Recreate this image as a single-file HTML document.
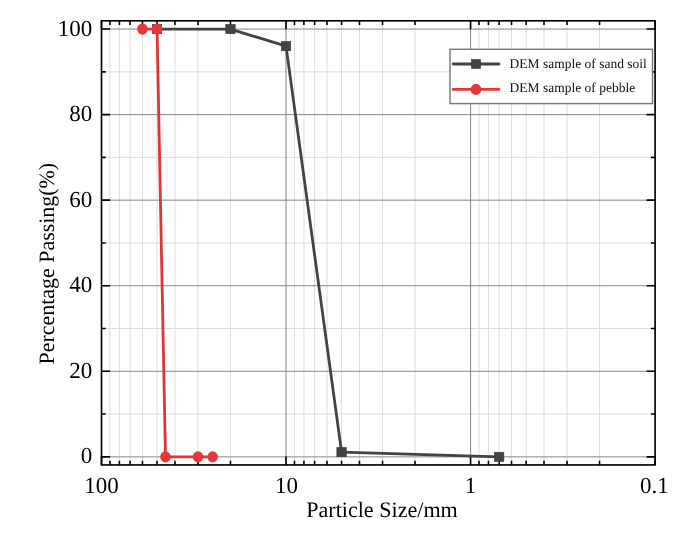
<!DOCTYPE html>
<html><head><meta charset="utf-8"><style>
html,body{margin:0;padding:0;background:#fff;}
body{width:685px;height:534px;overflow:hidden;font-family:"Liberation Serif",serif;}
svg{display:block;will-change:transform;} text{text-rendering:geometricPrecision;}
</style></head><body>
<svg width="685" height="534" viewBox="0 0 685 534">
<rect width="685" height="534" fill="#fff"/>
<path d="M230.48 20.8V464.95M197.99 20.8V464.95M174.93 20.8V464.95M157.05 20.8V464.95M142.44 20.8V464.95M130.08 20.8V464.95M119.38 20.8V464.95M109.94 20.8V464.95M415.02 20.8V464.95M382.52 20.8V464.95M359.47 20.8V464.95M341.58 20.8V464.95M326.97 20.8V464.95M314.62 20.8V464.95M303.92 20.8V464.95M294.48 20.8V464.95M599.55 20.8V464.95M567.06 20.8V464.95M544.00 20.8V464.95M526.12 20.8V464.95M511.51 20.8V464.95M499.15 20.8V464.95M488.45 20.8V464.95M479.01 20.8V464.95M101.5 414.07H655.1M101.5 328.51H655.1M101.5 242.95H655.1M101.5 157.39H655.1M101.5 71.83H655.1" stroke="#dddddd" stroke-width="1" fill="none"/>
<path d="M286.03 20.8V464.95M470.57 20.8V464.95M101.5 456.85H655.1M101.5 371.29H655.1M101.5 285.73H655.1M101.5 200.17H655.1M101.5 114.61H655.1M101.5 29.05H655.1" stroke="#858585" stroke-width="1" fill="none"/>
<path d="M101.50 464.95v-8.5M101.50 20.8v8.5M286.03 464.95v-8.5M286.03 20.8v8.5M470.57 464.95v-8.5M470.57 20.8v8.5M655.10 464.95v-8.5M655.10 20.8v8.5M230.48 464.95v-4.2M230.48 20.8v4.2M197.99 464.95v-4.2M197.99 20.8v4.2M174.93 464.95v-4.2M174.93 20.8v4.2M157.05 464.95v-4.2M157.05 20.8v4.2M142.44 464.95v-4.2M142.44 20.8v4.2M130.08 464.95v-4.2M130.08 20.8v4.2M119.38 464.95v-4.2M119.38 20.8v4.2M109.94 464.95v-4.2M109.94 20.8v4.2M415.02 464.95v-4.2M415.02 20.8v4.2M382.52 464.95v-4.2M382.52 20.8v4.2M359.47 464.95v-4.2M359.47 20.8v4.2M341.58 464.95v-4.2M341.58 20.8v4.2M326.97 464.95v-4.2M326.97 20.8v4.2M314.62 464.95v-4.2M314.62 20.8v4.2M303.92 464.95v-4.2M303.92 20.8v4.2M294.48 464.95v-4.2M294.48 20.8v4.2M599.55 464.95v-4.2M599.55 20.8v4.2M567.06 464.95v-4.2M567.06 20.8v4.2M544.00 464.95v-4.2M544.00 20.8v4.2M526.12 464.95v-4.2M526.12 20.8v4.2M511.51 464.95v-4.2M511.51 20.8v4.2M499.15 464.95v-4.2M499.15 20.8v4.2M488.45 464.95v-4.2M488.45 20.8v4.2M479.01 464.95v-4.2M479.01 20.8v4.2M101.5 456.85h8.5M655.1 456.85h-8.5M101.5 371.29h8.5M655.1 371.29h-8.5M101.5 285.73h8.5M655.1 285.73h-8.5M101.5 200.17h8.5M655.1 200.17h-8.5M101.5 114.61h8.5M655.1 114.61h-8.5M101.5 29.05h8.5M655.1 29.05h-8.5M101.5 414.07h4.2M655.1 414.07h-4.2M101.5 328.51h4.2M655.1 328.51h-4.2M101.5 242.95h4.2M655.1 242.95h-4.2M101.5 157.39h4.2M655.1 157.39h-4.2M101.5 71.83h4.2M655.1 71.83h-4.2" stroke="#000" stroke-width="1.6" fill="none"/>
<rect x="101.5" y="20.8" width="553.60" height="444.15" stroke="#000" stroke-width="1.65" fill="none"/>
<polyline points="157.05,29.05 230.48,29.05 286.03,46.16 341.58,452.14 499.15,456.85" stroke="#434343" stroke-width="2.8" fill="none" stroke-linejoin="round"/>
<rect x="152.35" y="24.45" width="9.4" height="9.2" fill="#434343" stroke="#363636" stroke-width="0.6"/>
<rect x="225.78" y="24.45" width="9.4" height="9.2" fill="#434343" stroke="#363636" stroke-width="0.6"/>
<rect x="281.33" y="41.56" width="9.4" height="9.2" fill="#434343" stroke="#363636" stroke-width="0.6"/>
<rect x="336.88" y="447.54" width="9.4" height="9.2" fill="#434343" stroke="#363636" stroke-width="0.6"/>
<rect x="494.45" y="452.25" width="9.4" height="9.2" fill="#434343" stroke="#363636" stroke-width="0.6"/>
<polyline points="142.44,29.05 157.05,29.05 165.49,456.85 197.99,456.85 212.60,456.85" stroke="#de353a" stroke-width="2.8" fill="none" stroke-linejoin="round"/>
<ellipse cx="142.44" cy="29.05" rx="5.3" ry="5.6" fill="#e5383b"/>
<ellipse cx="157.05" cy="29.05" rx="5.3" ry="5.6" fill="#e5383b"/>
<ellipse cx="165.49" cy="456.85" rx="5.3" ry="5.6" fill="#e5383b"/>
<ellipse cx="197.99" cy="456.85" rx="5.3" ry="5.6" fill="#e5383b"/>
<ellipse cx="212.60" cy="456.85" rx="5.3" ry="5.6" fill="#e5383b"/>
<rect x="450.0" y="49.3" width="202.5" height="54.3" fill="#fff" stroke="#767676" stroke-width="1.4"/>
<path d="M453.2 64H499" stroke="#434343" stroke-width="2.8" stroke-linecap="round"/>
<rect x="471.5" y="59.5" width="9" height="9" fill="#434343" stroke="#333" stroke-width="0.6"/>
<path d="M453.2 89.4H499" stroke="#e5383b" stroke-width="2.8" stroke-linecap="round"/>
<ellipse cx="476" cy="89.4" rx="5.3" ry="5.6" fill="#e5383b"/>
<text transform="translate(509.60,67.90) scale(1,1.0)" font-family="Liberation Serif, serif" font-size="13.5" fill="#111">DEM sample of sand soil</text>
<text transform="translate(509.60,91.80) scale(1,1.0)" font-family="Liberation Serif, serif" font-size="13.5" fill="#111">DEM sample of pebble</text>
<text transform="translate(92.20,463.35) scale(1,1.0)" font-family="Liberation Serif, serif" font-size="23" text-anchor="end" fill="#000">0</text>
<text transform="translate(92.20,377.79) scale(1,1.0)" font-family="Liberation Serif, serif" font-size="23" text-anchor="end" fill="#000">20</text>
<text transform="translate(92.20,292.23) scale(1,1.0)" font-family="Liberation Serif, serif" font-size="23" text-anchor="end" fill="#000">40</text>
<text transform="translate(92.20,206.67) scale(1,1.0)" font-family="Liberation Serif, serif" font-size="23" text-anchor="end" fill="#000">60</text>
<text transform="translate(92.20,121.11) scale(1,1.0)" font-family="Liberation Serif, serif" font-size="23" text-anchor="end" fill="#000">80</text>
<text transform="translate(92.20,35.55) scale(1,1.0)" font-family="Liberation Serif, serif" font-size="23" text-anchor="end" fill="#000">100</text>
<text transform="translate(101.40,492.60) scale(1,1.0)" font-family="Liberation Serif, serif" font-size="23" text-anchor="middle" fill="#000">100</text>
<text transform="translate(286.40,492.60) scale(1,1.0)" font-family="Liberation Serif, serif" font-size="23" text-anchor="middle" fill="#000">10</text>
<text transform="translate(470.40,492.60) scale(1,1.0)" font-family="Liberation Serif, serif" font-size="23" text-anchor="middle" fill="#000">1</text>
<text transform="translate(654.30,492.60) scale(1,1.0)" font-family="Liberation Serif, serif" font-size="23" text-anchor="middle" fill="#000">0.1</text>
<text transform="translate(306.20,516.80) scale(1,1.0)" font-family="Liberation Serif, serif" font-size="22.1" fill="#000">Particle Size/mm</text>
<text transform="translate(54,364.5) rotate(-90)" font-family="Liberation Serif, serif" font-size="21.95" fill="#000">Percentage Passing(%)</text>
</svg>
</body></html>
